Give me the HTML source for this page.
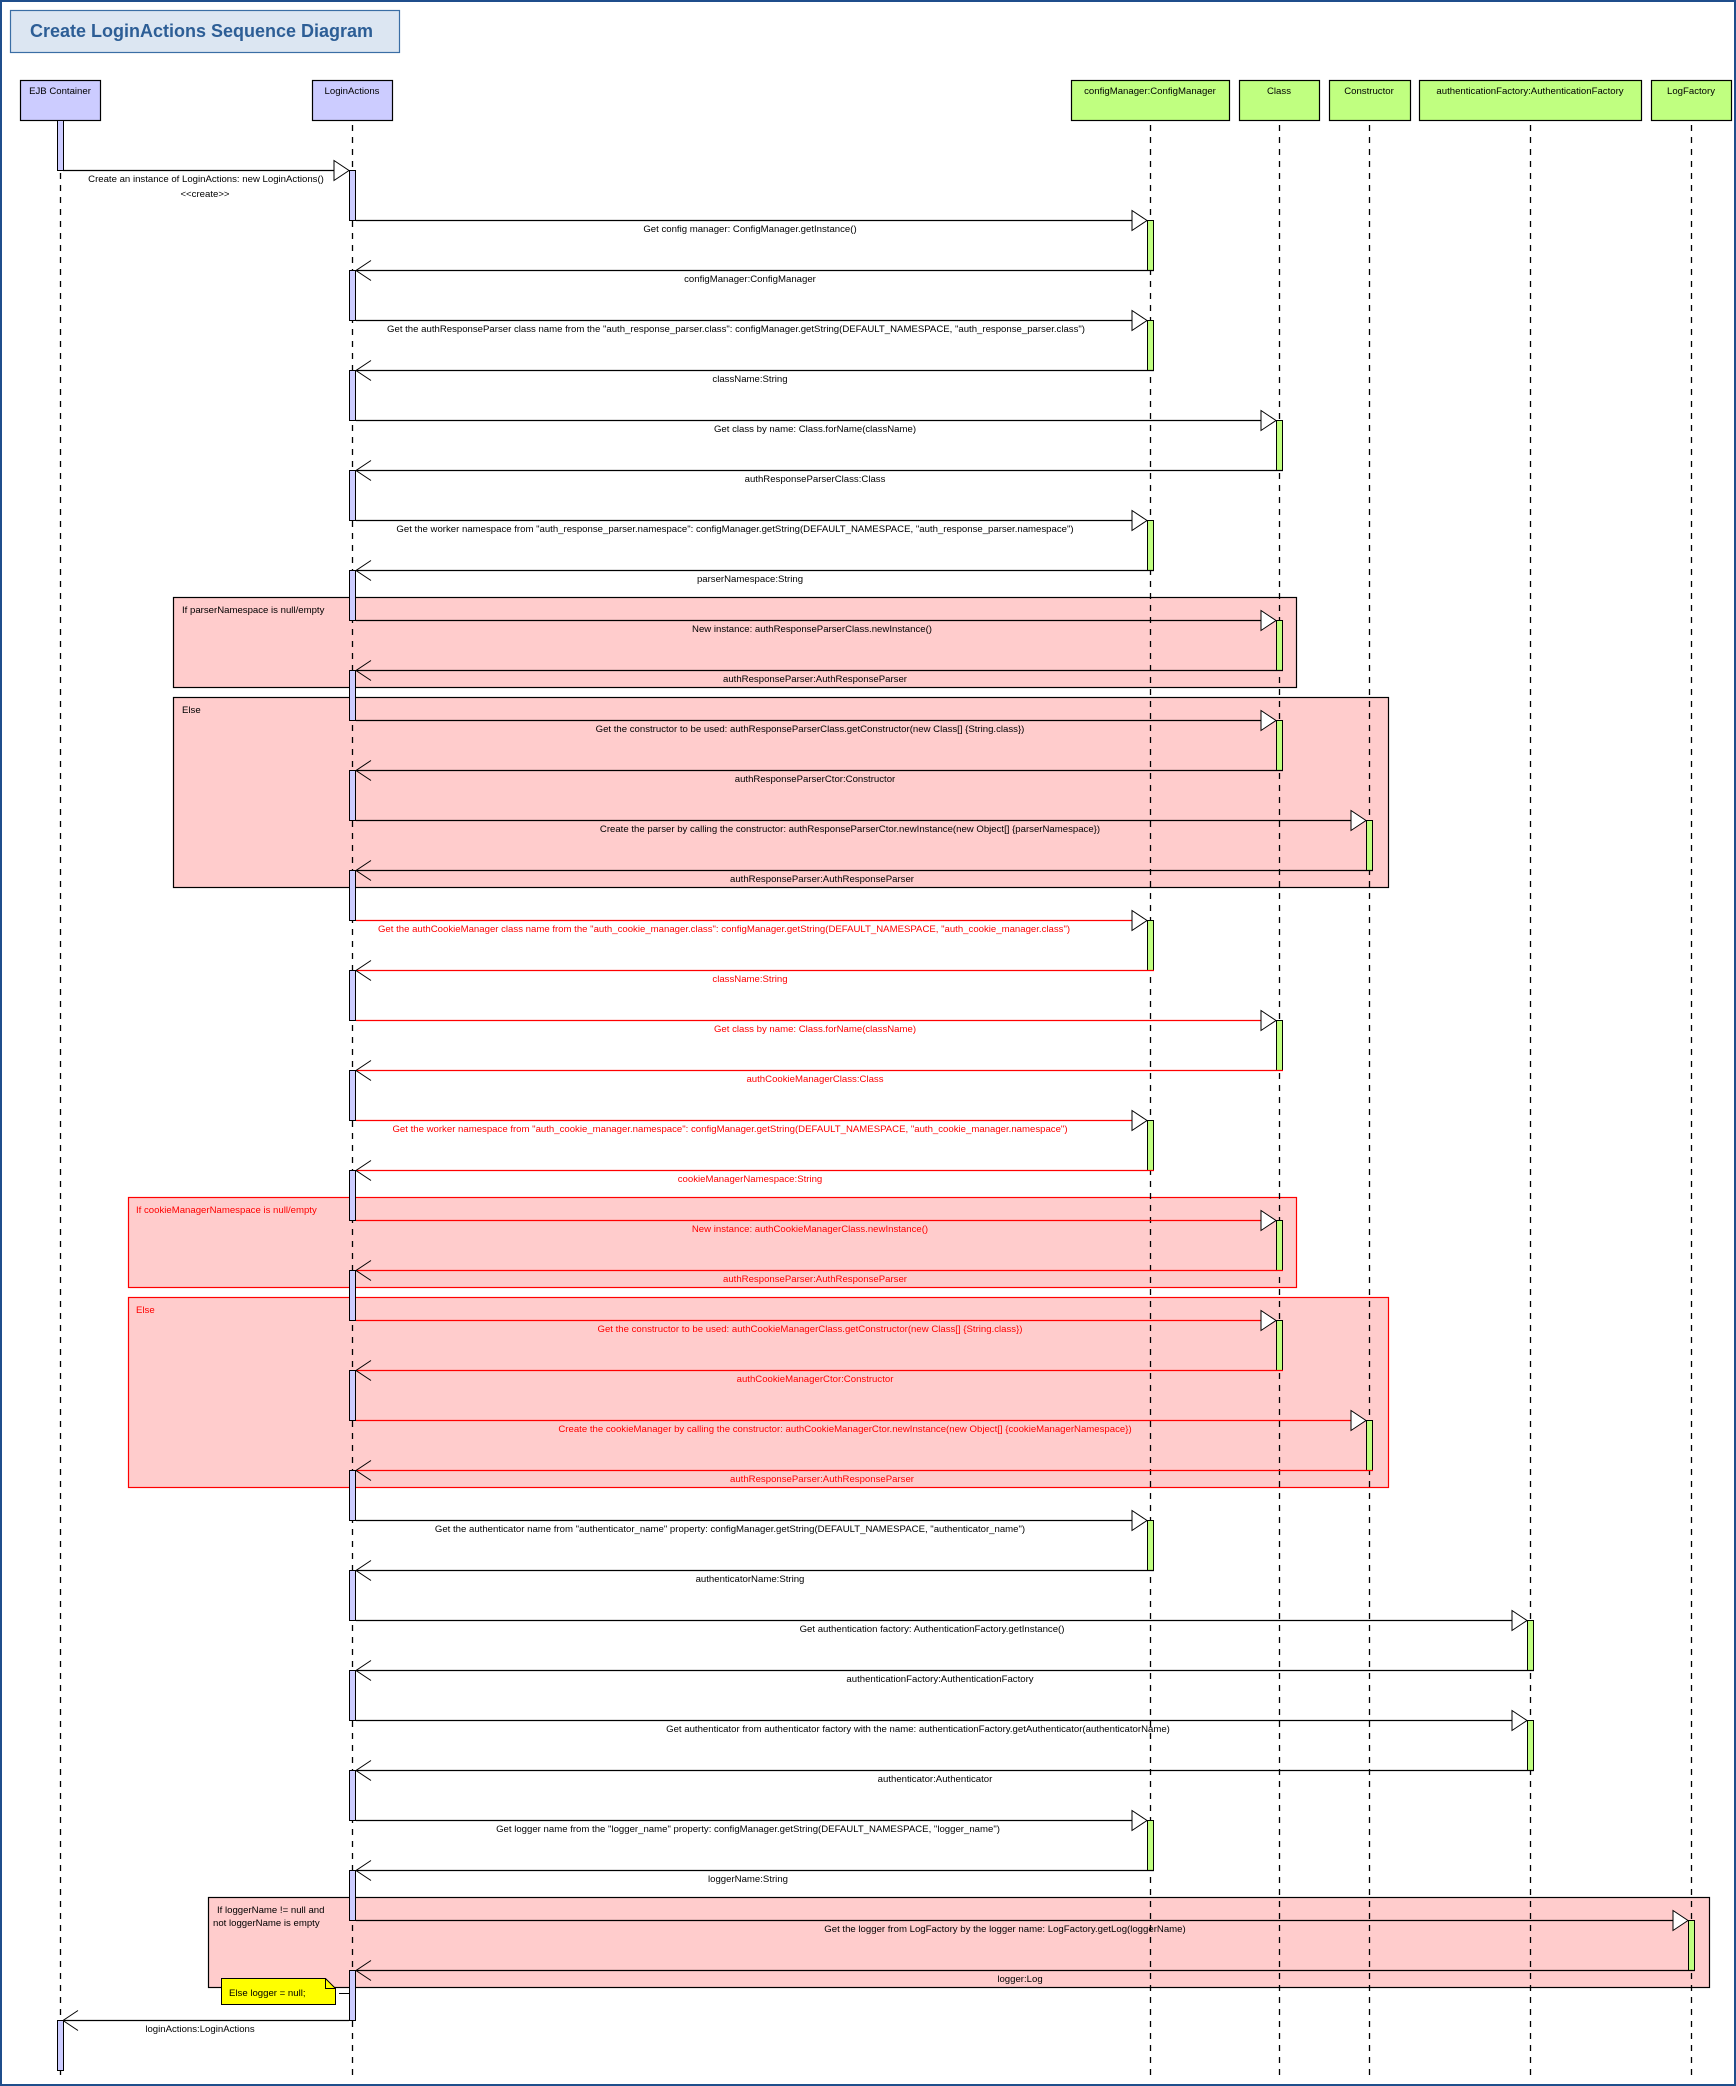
<!DOCTYPE html>
<html><head><meta charset="utf-8"><style>
html,body{margin:0;padding:0;background:#fff;}
svg{display:block;font-family:"Liberation Sans",Arial,sans-serif;}
.l{font-size:9.6px;text-anchor:middle;fill:#000;}
.r{font-size:9.6px;text-anchor:middle;fill:#f00;}
.ll{stroke:#000;stroke-width:1.3;stroke-dasharray:6,6;}
.m{stroke:#000;stroke-width:1.3;}
.mr{stroke:#f00;stroke-width:1.3;}
.tri{fill:#fff;stroke:#000;stroke-width:1;}
.chev{fill:none;stroke:#000;stroke-width:1;}
.bl{fill:#ccccff;stroke:#000;stroke-width:1;}
.bg{fill:#c0ff80;stroke:#000;stroke-width:1;}
.ob{fill:#ccccff;stroke:#000;stroke-width:1.2;}
.og{fill:#c0ff80;stroke:#000;stroke-width:1.2;}
.on{font-size:9.6px;text-anchor:middle;}
</style></head><body>
<svg width="1736" height="2086" viewBox="0 0 1736 2086" xmlns="http://www.w3.org/2000/svg">
<rect x="1" y="1" width="1734" height="2084" fill="#fff" stroke="#1f4e8c" stroke-width="2"/>
<rect x="10.5" y="10.5" width="389" height="42" fill="#dce6f2" stroke="#3a6ea5" stroke-width="1.2"/>
<text x="30" y="37" font-size="18" font-weight="bold" fill="#2d5e96" textLength="343" lengthAdjust="spacingAndGlyphs">Create LoginActions Sequence Diagram</text>

<!-- fragments -->
<rect x="173.5" y="597.5" width="1123" height="90" fill="#ffcccc" stroke="#000" stroke-width="1.2"/>
<text x="182" y="613" font-size="9.6">If parserNamespace is null/empty</text>
<rect x="173.5" y="697.5" width="1215" height="190" fill="#ffcccc" stroke="#000" stroke-width="1.2"/>
<text x="182" y="713" font-size="9.6">Else</text>
<rect x="128.5" y="1197.5" width="1168" height="90" fill="#ffcccc" stroke="#f00" stroke-width="1.2"/>
<text x="136" y="1213" font-size="9.6" fill="#f00">If cookieManagerNamespace is null/empty</text>
<rect x="128.5" y="1297.5" width="1260" height="190" fill="#ffcccc" stroke="#f00" stroke-width="1.2"/>
<text x="136" y="1313" font-size="9.6" fill="#f00">Else</text>
<rect x="208.5" y="1897.5" width="1501" height="90" fill="#ffcccc" stroke="#000" stroke-width="1.2"/>
<text x="217" y="1913" font-size="9.6">If loggerName != null and</text>
<text x="213" y="1926" font-size="9.6">not loggerName is empty</text>

<!-- objects -->
<rect x="20.5" y="80.5" width="80" height="40" class="ob"/><text x="60" y="94" class="on">EJB Container</text>
<rect x="312.5" y="80.5" width="80" height="40" class="ob"/><text x="352" y="94" class="on">LoginActions</text>
<rect x="1071.5" y="80.5" width="158" height="40" class="og"/><text x="1150" y="94" class="on">configManager:ConfigManager</text>
<rect x="1239.5" y="80.5" width="80" height="40" class="og"/><text x="1279" y="94" class="on">Class</text>
<rect x="1329.5" y="80.5" width="81" height="40" class="og"/><text x="1369" y="94" class="on">Constructor</text>
<rect x="1419.5" y="80.5" width="222" height="40" class="og"/><text x="1530" y="94" class="on">authenticationFactory:AuthenticationFactory</text>
<rect x="1651.5" y="80.5" width="80" height="40" class="og"/><text x="1691" y="94" class="on">LogFactory</text>

<!-- lifelines -->
<line x1="60.5" y1="125" x2="60.5" y2="2080" class="ll"/>
<line x1="352.5" y1="125" x2="352.5" y2="2080" class="ll"/>
<line x1="1150.5" y1="125" x2="1150.5" y2="2080" class="ll"/>
<line x1="1279.5" y1="125" x2="1279.5" y2="2080" class="ll"/>
<line x1="1369.5" y1="125" x2="1369.5" y2="2080" class="ll"/>
<line x1="1530.5" y1="125" x2="1530.5" y2="2080" class="ll"/>
<line x1="1691.5" y1="125" x2="1691.5" y2="2080" class="ll"/>

<!-- EJB bars -->
<rect x="57.5" y="120.5" width="6" height="50" class="bl"/>
<rect x="57.5" y="2020.5" width="6" height="50" class="bl"/>
<!-- LA bars -->
<rect x="349.5" y="170.5" width="6" height="50" class="bl"/>
<rect x="349.5" y="270.5" width="6" height="50" class="bl"/>
<rect x="349.5" y="370.5" width="6" height="50" class="bl"/>
<rect x="349.5" y="470.5" width="6" height="50" class="bl"/>
<rect x="349.5" y="570.5" width="6" height="50" class="bl"/>
<rect x="349.5" y="670.5" width="6" height="50" class="bl"/>
<rect x="349.5" y="770.5" width="6" height="50" class="bl"/>
<rect x="349.5" y="870.5" width="6" height="50" class="bl"/>
<rect x="349.5" y="970.5" width="6" height="50" class="bl"/>
<rect x="349.5" y="1070.5" width="6" height="50" class="bl"/>
<rect x="349.5" y="1170.5" width="6" height="50" class="bl"/>
<rect x="349.5" y="1270.5" width="6" height="50" class="bl"/>
<rect x="349.5" y="1370.5" width="6" height="50" class="bl"/>
<rect x="349.5" y="1470.5" width="6" height="50" class="bl"/>
<rect x="349.5" y="1570.5" width="6" height="50" class="bl"/>
<rect x="349.5" y="1670.5" width="6" height="50" class="bl"/>
<rect x="349.5" y="1770.5" width="6" height="50" class="bl"/>
<rect x="349.5" y="1870.5" width="6" height="50" class="bl"/>
<rect x="349.5" y="1970.5" width="6" height="50" class="bl"/>
<!-- target bars -->
<rect x="1147.5" y="220.5" width="6" height="50" class="bg"/>
<rect x="1147.5" y="320.5" width="6" height="50" class="bg"/>
<rect x="1276.5" y="420.5" width="6" height="50" class="bg"/>
<rect x="1147.5" y="520.5" width="6" height="50" class="bg"/>
<rect x="1276.5" y="620.5" width="6" height="50" class="bg"/>
<rect x="1276.5" y="720.5" width="6" height="50" class="bg"/>
<rect x="1366.5" y="820.5" width="6" height="50" class="bg"/>
<rect x="1147.5" y="920.5" width="6" height="50" class="bg"/>
<rect x="1276.5" y="1020.5" width="6" height="50" class="bg"/>
<rect x="1147.5" y="1120.5" width="6" height="50" class="bg"/>
<rect x="1276.5" y="1220.5" width="6" height="50" class="bg"/>
<rect x="1276.5" y="1320.5" width="6" height="50" class="bg"/>
<rect x="1366.5" y="1420.5" width="6" height="50" class="bg"/>
<rect x="1147.5" y="1520.5" width="6" height="50" class="bg"/>
<rect x="1527.5" y="1620.5" width="6" height="50" class="bg"/>
<rect x="1527.5" y="1720.5" width="6" height="50" class="bg"/>
<rect x="1147.5" y="1820.5" width="6" height="50" class="bg"/>
<rect x="1688.5" y="1920.5" width="6" height="50" class="bg"/>

<!-- msg 0 -->
<line x1="63" y1="170.5" x2="334" y2="170.5" class="m"/>
<polygon points="334,160.5 349,170.5 334,180.5" class="tri"/>
<text x="206" y="182" class="l">Create an instance of LoginActions: new LoginActions()</text>
<text x="205" y="197" class="l">&lt;&lt;create&gt;&gt;</text>

<g>
<line x1="356" y1="220.5" x2="1132" y2="220.5" class="m"/><polygon points="1132,210.5 1147,220.5 1132,230.5" class="tri"/>
<text x="750" y="232" class="l">Get config manager: ConfigManager.getInstance()</text>
<line x1="356" y1="270.5" x2="1154" y2="270.5" class="m"/><polyline points="371,260.5 356,270.5 371,280.5" class="chev"/>
<text x="750" y="282" class="l">configManager:ConfigManager</text>

<line x1="356" y1="320.5" x2="1132" y2="320.5" class="m"/><polygon points="1132,310.5 1147,320.5 1132,330.5" class="tri"/>
<text x="736" y="332" class="l">Get the authResponseParser class name from the "auth_response_parser.class": configManager.getString(DEFAULT_NAMESPACE, "auth_response_parser.class")</text>
<line x1="356" y1="370.5" x2="1154" y2="370.5" class="m"/><polyline points="371,360.5 356,370.5 371,380.5" class="chev"/>
<text x="750" y="382" class="l">className:String</text>

<line x1="356" y1="420.5" x2="1261" y2="420.5" class="m"/><polygon points="1261,410.5 1276,420.5 1261,430.5" class="tri"/>
<text x="815" y="432" class="l">Get class by name: Class.forName(className)</text>
<line x1="356" y1="470.5" x2="1283" y2="470.5" class="m"/><polyline points="371,460.5 356,470.5 371,480.5" class="chev"/>
<text x="815" y="482" class="l">authResponseParserClass:Class</text>

<line x1="356" y1="520.5" x2="1132" y2="520.5" class="m"/><polygon points="1132,510.5 1147,520.5 1132,530.5" class="tri"/>
<text x="735" y="532" class="l">Get the worker namespace from "auth_response_parser.namespace": configManager.getString(DEFAULT_NAMESPACE, "auth_response_parser.namespace")</text>
<line x1="356" y1="570.5" x2="1154" y2="570.5" class="m"/><polyline points="371,560.5 356,570.5 371,580.5" class="chev"/>
<text x="750" y="582" class="l">parserNamespace:String</text>

<line x1="356" y1="620.5" x2="1261" y2="620.5" class="m"/><polygon points="1261,610.5 1276,620.5 1261,630.5" class="tri"/>
<text x="812" y="632" class="l">New instance: authResponseParserClass.newInstance()</text>
<line x1="356" y1="670.5" x2="1283" y2="670.5" class="m"/><polyline points="371,660.5 356,670.5 371,680.5" class="chev"/>
<text x="815" y="682" class="l">authResponseParser:AuthResponseParser</text>

<line x1="356" y1="720.5" x2="1261" y2="720.5" class="m"/><polygon points="1261,710.5 1276,720.5 1261,730.5" class="tri"/>
<text x="810" y="732" class="l">Get the constructor to be used: authResponseParserClass.getConstructor(new Class[] {String.class})</text>
<line x1="356" y1="770.5" x2="1283" y2="770.5" class="m"/><polyline points="371,760.5 356,770.5 371,780.5" class="chev"/>
<text x="815" y="782" class="l">authResponseParserCtor:Constructor</text>

<line x1="356" y1="820.5" x2="1351" y2="820.5" class="m"/><polygon points="1351,810.5 1366,820.5 1351,830.5" class="tri"/>
<text x="850" y="832" class="l">Create the parser by calling the constructor: authResponseParserCtor.newInstance(new Object[] {parserNamespace})</text>
<line x1="356" y1="870.5" x2="1373" y2="870.5" class="m"/><polyline points="371,860.5 356,870.5 371,880.5" class="chev"/>
<text x="822" y="882" class="l">authResponseParser:AuthResponseParser</text>
</g>

<g>
<line x1="356" y1="920.5" x2="1132" y2="920.5" class="mr"/><polygon points="1132,910.5 1147,920.5 1132,930.5" class="tri"/>
<text x="724" y="932" class="r">Get the authCookieManager class name from the "auth_cookie_manager.class": configManager.getString(DEFAULT_NAMESPACE, "auth_cookie_manager.class")</text>
<line x1="356" y1="970.5" x2="1154" y2="970.5" class="mr"/><polyline points="371,960.5 356,970.5 371,980.5" class="chev"/>
<text x="750" y="982" class="r">className:String</text>

<line x1="356" y1="1020.5" x2="1261" y2="1020.5" class="mr"/><polygon points="1261,1010.5 1276,1020.5 1261,1030.5" class="tri"/>
<text x="815" y="1032" class="r">Get class by name: Class.forName(className)</text>
<line x1="356" y1="1070.5" x2="1283" y2="1070.5" class="mr"/><polyline points="371,1060.5 356,1070.5 371,1080.5" class="chev"/>
<text x="815" y="1082" class="r">authCookieManagerClass:Class</text>

<line x1="356" y1="1120.5" x2="1132" y2="1120.5" class="mr"/><polygon points="1132,1110.5 1147,1120.5 1132,1130.5" class="tri"/>
<text x="730" y="1132" class="r">Get the worker namespace from "auth_cookie_manager.namespace": configManager.getString(DEFAULT_NAMESPACE, "auth_cookie_manager.namespace")</text>
<line x1="356" y1="1170.5" x2="1154" y2="1170.5" class="mr"/><polyline points="371,1160.5 356,1170.5 371,1180.5" class="chev"/>
<text x="750" y="1182" class="r">cookieManagerNamespace:String</text>

<line x1="356" y1="1220.5" x2="1261" y2="1220.5" class="mr"/><polygon points="1261,1210.5 1276,1220.5 1261,1230.5" class="tri"/>
<text x="810" y="1232" class="r">New instance: authCookieManagerClass.newInstance()</text>
<line x1="356" y1="1270.5" x2="1283" y2="1270.5" class="mr"/><polyline points="371,1260.5 356,1270.5 371,1280.5" class="chev"/>
<text x="815" y="1282" class="r">authResponseParser:AuthResponseParser</text>

<line x1="356" y1="1320.5" x2="1261" y2="1320.5" class="mr"/><polygon points="1261,1310.5 1276,1320.5 1261,1330.5" class="tri"/>
<text x="810" y="1332" class="r">Get the constructor to be used: authCookieManagerClass.getConstructor(new Class[] {String.class})</text>
<line x1="356" y1="1370.5" x2="1283" y2="1370.5" class="mr"/><polyline points="371,1360.5 356,1370.5 371,1380.5" class="chev"/>
<text x="815" y="1382" class="r">authCookieManagerCtor:Constructor</text>

<line x1="356" y1="1420.5" x2="1351" y2="1420.5" class="mr"/><polygon points="1351,1410.5 1366,1420.5 1351,1430.5" class="tri"/>
<text x="845" y="1432" class="r">Create the cookieManager by calling the constructor: authCookieManagerCtor.newInstance(new Object[] {cookieManagerNamespace})</text>
<line x1="356" y1="1470.5" x2="1373" y2="1470.5" class="mr"/><polyline points="371,1460.5 356,1470.5 371,1480.5" class="chev"/>
<text x="822" y="1482" class="r">authResponseParser:AuthResponseParser</text>
</g>

<g>
<line x1="356" y1="1520.5" x2="1132" y2="1520.5" class="m"/><polygon points="1132,1510.5 1147,1520.5 1132,1530.5" class="tri"/>
<text x="730" y="1532" class="l">Get the authenticator name from "authenticator_name" property: configManager.getString(DEFAULT_NAMESPACE, "authenticator_name")</text>
<line x1="356" y1="1570.5" x2="1154" y2="1570.5" class="m"/><polyline points="371,1560.5 356,1570.5 371,1580.5" class="chev"/>
<text x="750" y="1582" class="l">authenticatorName:String</text>

<line x1="356" y1="1620.5" x2="1512" y2="1620.5" class="m"/><polygon points="1512,1610.5 1527,1620.5 1512,1630.5" class="tri"/>
<text x="932" y="1632" class="l">Get authentication factory: AuthenticationFactory.getInstance()</text>
<line x1="356" y1="1670.5" x2="1534" y2="1670.5" class="m"/><polyline points="371,1660.5 356,1670.5 371,1680.5" class="chev"/>
<text x="940" y="1682" class="l">authenticationFactory:AuthenticationFactory</text>

<line x1="356" y1="1720.5" x2="1512" y2="1720.5" class="m"/><polygon points="1512,1710.5 1527,1720.5 1512,1730.5" class="tri"/>
<text x="918" y="1732" class="l">Get authenticator from authenticator factory with the name: authenticationFactory.getAuthenticator(authenticatorName)</text>
<line x1="356" y1="1770.5" x2="1534" y2="1770.5" class="m"/><polyline points="371,1760.5 356,1770.5 371,1780.5" class="chev"/>
<text x="935" y="1782" class="l">authenticator:Authenticator</text>

<line x1="356" y1="1820.5" x2="1132" y2="1820.5" class="m"/><polygon points="1132,1810.5 1147,1820.5 1132,1830.5" class="tri"/>
<text x="748" y="1832" class="l">Get logger name from the "logger_name" property: configManager.getString(DEFAULT_NAMESPACE, "logger_name")</text>
<line x1="356" y1="1870.5" x2="1154" y2="1870.5" class="m"/><polyline points="371,1860.5 356,1870.5 371,1880.5" class="chev"/>
<text x="748" y="1882" class="l">loggerName:String</text>

<line x1="356" y1="1920.5" x2="1673" y2="1920.5" class="m"/><polygon points="1673,1910.5 1688,1920.5 1673,1930.5" class="tri"/>
<text x="1005" y="1932" class="l">Get the logger from LogFactory by the logger name: LogFactory.getLog(loggerName)</text>
<line x1="356" y1="1970.5" x2="1695" y2="1970.5" class="m"/><polyline points="371,1960.5 356,1970.5 371,1980.5" class="chev"/>
<text x="1020" y="1982" class="l">logger:Log</text>

<line x1="63" y1="2020.5" x2="349" y2="2020.5" class="m"/><polyline points="78,2010.5 63,2020.5 78,2030.5" class="chev"/>
<text x="200" y="2032" class="l">loginActions:LoginActions</text>
</g>

<polygon points="221.5,1978.5 325.5,1978.5 335.5,1988.5 335.5,2004.5 221.5,2004.5" fill="#ffff00" stroke="#000" stroke-width="1"/>
<polyline points="325.5,1978.5 325.5,1988.5 335.5,1988.5" fill="none" stroke="#000" stroke-width="1"/>
<text x="229" y="1996" font-size="9.6">Else logger = null;</text>
<line x1="339" y1="1993.5" x2="349" y2="1993.5" stroke="#000" stroke-width="1"/>
</svg>
</body></html>
